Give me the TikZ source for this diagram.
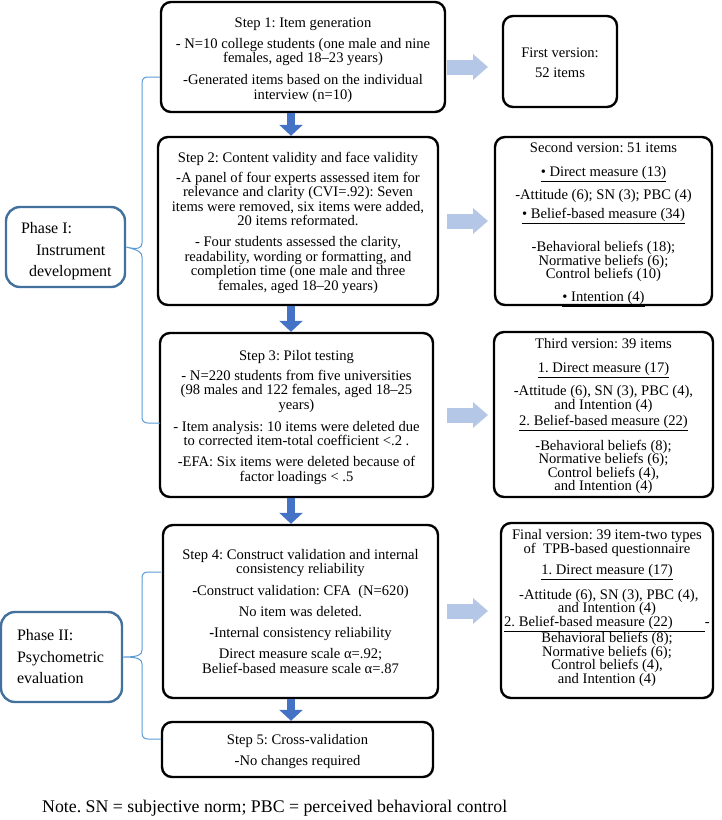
\documentclass[tikz,border=0pt]{standalone}
\usepackage{fontspec}
\setmainfont{Liberation Serif}
\usetikzlibrary{arrows.meta,calc}
\definecolor{darkarrow}{HTML}{4472C4}
\definecolor{lightarrow}{HTML}{B4C7E7}
\definecolor{phaseline}{HTML}{41719C}
\definecolor{braceline}{HTML}{5B9BD5}
\frenchspacing
\tikzset{
  stepbox/.style={draw=black, line width=2.4pt, rounded corners=10pt, fill=white, inner sep=0pt},
  steptext/.style={align=center, inner sep=0pt, font=\fontsize{14.6}{14.5}\selectfont},
  vertext/.style={align=center, inner sep=0pt, font=\fontsize{14.6}{13.5}\selectfont},
  phasebox/.style={draw=phaseline, line width=2.4pt, rounded corners=14pt, fill=white, inner sep=0pt},
  phasetext/.style={align=left, inner sep=0pt, anchor=west, font=\fontsize{16}{21.5}\selectfont},
  downarr/.style={line width=8pt, draw=darkarrow, -{Triangle[width=23pt,length=11pt]}},
  rightarr/.style={line width=15pt, draw=lightarrow, -{Triangle[width=25pt,length=15pt]}},
  bracep/.style={draw=braceline, line width=1pt},
  notetext/.style={anchor=west, inner sep=0pt, font=\fontsize{17.8}{20}\selectfont}
}
\begin{document}
\begin{tikzpicture}[x=1pt,y=-1pt]
\useasboundingbox (0,0) rectangle (721,820);

% step boxes
\node[stepbox, minimum width=284, minimum height=110] (s1) at (303,57) {};
\node[steptext] (t1) at ($(s1.center)+(0,3)$) {%
Step 1: Item generation\\[6.5pt]
- N=10 college students (one male and nine\\
females, aged 18–23 years)\\[7.5pt]
-Generated items based on the individual\\
interview (n=10)};

\node[stepbox, minimum width=280, minimum height=168] (s2) at (298,221) {};
\node[steptext] (t2) at ($(s2.center)+(0,1.5)$) {%
Step 2: Content validity and face validity\\[5.5pt]
-A panel of four experts assessed item for\\
relevance and clarity (CVI=.92): Seven\\
items were removed, six items were added,\\
20 items reformated.\\[6.5pt]
- Four students assessed the clarity,\\
readability, wording or formatting, and\\
completion time (one male and three\\
females, aged 18–20 years)};

\node[stepbox, minimum width=273, minimum height=164] (s3) at (296.5,415) {};
\node[steptext] (t3) at ($(s3.center)+(0,2.5)$) {%
Step 3: Pilot testing\\[5.5pt]
- N=220 students from five universities\\
(98 males and 122 females, aged 18–25\\
years)\\[7.5pt]
- Item analysis: 10 items were deleted due\\
to corrected item-total coefficient <.2 .\\[6.5pt]
-EFA: Six items were deleted because of\\
factor loadings < .5};

\node[stepbox, minimum width=275, minimum height=173] (s4) at (300.5,611.5) {};
\node[steptext] (t4) at (s4.center) {%
Step 4: Construct validation and internal\\
consistency reliability\\[7.5pt]
-Construct validation: CFA\ \ (N=620)\\[6.5pt]
No item was deleted.\\[6.5pt]
\textbf{-}Internal consistency reliability\\[6.5pt]
Direct measure scale α=.92;\\
Belief-based measure scale α=.87};

\node[stepbox, minimum width=271, minimum height=55] (s5) at (297.5,749.5) {};
\node[steptext] (t5) at ($(s5.center)+(0,2)$) {%
Step 5: Cross-validation\\[6.5pt]
-No changes required};

% version boxes
\node[stepbox, minimum width=114, minimum height=91] (v1) at (560,61.5) {};
\node[vertext] (w1) at ($(v1.center)+(0,1)$) {%
First version:\\[6.5pt]
52 items};

\node[stepbox, minimum width=217, minimum height=168] (v2) at (603.5,221) {};
\node[vertext] (w2) at ($(v2.center)+(0,3.5)$) {%
Second version: 51 items\\[11pt]
\underline{\textbullet\ Direct measure (13)}\\[6.5pt]
-Attitude (6); SN (3); PBC (4)\\[5.5pt]
\underline{\textbullet\ Belief-based measure (34)}\\[16.5pt]
-Behavioral beliefs (18);\\
Normative beliefs (6);\\
Control beliefs (10)\\[9.5pt]
\underline{\textbullet\ Intention (4)}};

\node[stepbox, minimum width=219, minimum height=165] (v3) at (603.5,414.5) {};
\node[vertext] (w3) at ($(v3.center)+(0,1.5)$) {%
Third version: 39 items\\[10.5pt]
\underline{1. Direct measure (17)}\\[7.5pt]
-Attitude (6), SN (3), PBC (4),\\
and Intention (4)\\[2.5pt]
\underline{2. Belief-based measure (22)}\\[8.5pt]
-Behavioral beliefs (8);\\
Normative beliefs (6);\\
Control beliefs (4),\\
and Intention (4)};

\node[stepbox, minimum width=212, minimum height=175] (v4) at (607,610.5) {};
\node[vertext] (w4) at ($(v4.center)+(0,-2.5)$) {%
Final version: 39 item-two types\\
of\ \ TPB-based questionnaire\\[8pt]
\underline{1. Direct measure (17)}\\[8pt]
\ -Attitude (6), SN (3), PBC (4),\\
and Intention (4)\\
\underline{2. Belief-based measure (22)\hspace{2.2em}}-\\
Behavioral beliefs (8);\\
Normative beliefs (6);\\
Control beliefs (4),\\
and Intention (4)};

% phase boxes
\node[phasebox, minimum width=119, minimum height=80] (p1) at (65.5,247) {};
\node[phasetext] (q1) at ($(p1.west)+(16,4.5)$) {%
Phase I:\\
\hspace*{15pt}Instrument\\
\hspace*{8pt}development};

\node[phasebox, minimum width=121, minimum height=90] (p2) at (61.5,657) {};
\node[phasetext] (q2) at ($(p2.west)+(17,0)$) {%
Phase II:\\
Psychometric\\
evaluation};

% note
\node[notetext] (note) at (42,808) {Note. SN = subjective norm; PBC = perceived behavioral control};

% dark down arrows
\draw[downarr] (291,0 |- s1.south) -- (291,0 |- s2.north);
\draw[downarr] (291,0 |- s2.south) -- (291,0 |- s3.north);
\draw[downarr] (291,0 |- s3.south) -- (291,0 |- s4.north);
\draw[downarr] (291,0 |- s4.south) -- (291,0 |- s5.north);

% light right arrows
\coordinate (a1s) at (447,67);  \coordinate (a1e) at (488,67);
\coordinate (a2s) at (447,221); \coordinate (a2e) at (488,221);
\coordinate (a3s) at (447,415); \coordinate (a3e) at (488,415);
\coordinate (a4s) at (447,611); \coordinate (a4e) at (488,611);
\draw[rightarr] (a1s) -- (a1e);
\draw[rightarr] (a2s) -- (a2e);
\draw[rightarr] (a3s) -- (a3e);
\draw[rightarr] (a4s) -- (a4e);

% braces
\coordinate (b1t) at (160,77);
\coordinate (b1b) at (160,423);
\draw[bracep] (b1t) -- (148,77) .. controls (144,77) and (142,79) .. (142,83)
  -- (142,243) .. controls (142,248) and (138,250) .. (p1.east)
  .. controls (138,250) and (142,252) .. (142,257)
  -- (142,417) .. controls (142,421) and (144,423) .. (148,423) -- (b1b);
\coordinate (b2t) at (161,572);
\coordinate (b2b) at (s5.west |- 0,739);
\draw[bracep] (b2t) -- (148,572) .. controls (144,572) and (142,574) .. (142,578)
  -- (142,650) .. controls (142,655) and (138,657) .. (p2.east)
  .. controls (138,657) and (142,659) .. (142,664)
  -- (142,733) .. controls (142,737) and (144,739) .. (148,739) -- (b2b);
\end{tikzpicture}
\end{document}
